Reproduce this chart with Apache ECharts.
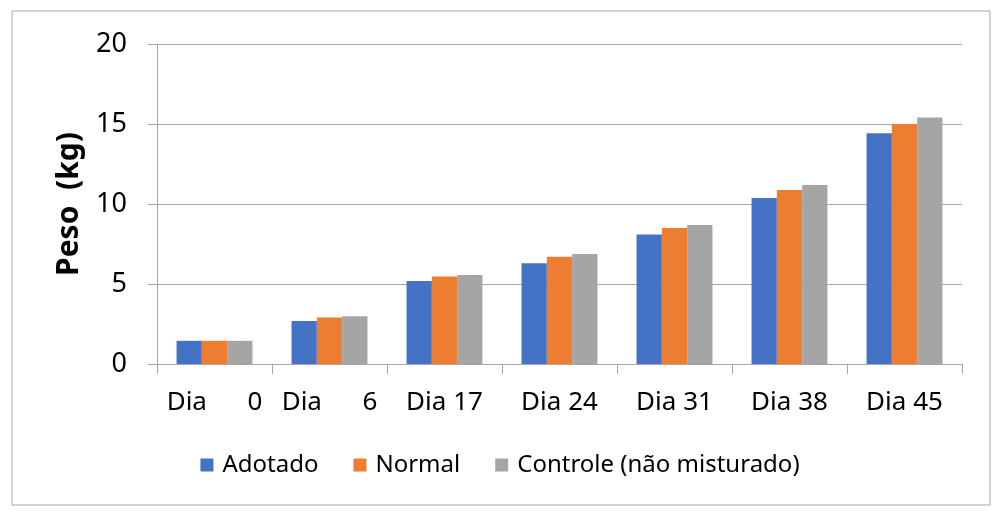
<!DOCTYPE html>
<html><head><meta charset="utf-8">
<script src="https://cdn.jsdelivr.net/npm/echarts@6/dist/echarts.min.js"></script>
<style>html,body{margin:0;padding:0;background:#fff}#c{width:1000px;height:515px}</style>
</head><body><div id="c"></div>
<script>
const categories = ['Dia      0', 'Dia      6', 'Dia 17', 'Dia 24', 'Dia 31', 'Dia 38', 'Dia 45'];
const adotado = [1.45, 2.68, 5.18, 6.3, 8.1, 10.38, 14.42];
const normal = [1.45, 2.9, 5.47, 6.7, 8.5, 10.88, 15.0];
const controle = [1.45, 2.98, 5.56, 6.88, 8.68, 11.18, 15.4];
const seriesNames = ['Adotado', 'Normal', 'Controle (não misturado)'];
const yTicks = [0, 5, 10, 15, 20];

const font = 'Noto Sans, Liberation Sans, sans-serif';
const chart = echarts.init(document.getElementById('c'));
chart.setOption({
  animation: false,
  color: ['#4472c4', '#ed7d31', '#a5a5a5'],
  graphic: [{type: 'rect', shape: {x: 12, y: 11, width: 978, height: 494}, style: {fill: 'none', stroke: '#a6a6a6', lineWidth: 1}}],
  legend: {
    data: seriesNames, top: 448, left: 'center', itemWidth: 13, itemHeight: 13, itemGap: 35,
    icon: 'rect',
    textStyle: {fontSize: 24, fontFamily: font, color: '#000', padding: [0, 0, 0, 4]}
  },
  grid: {left: 157, right: 38, top: 44, bottom: 151, containLabel: false},
  xAxis: {
    type: 'category', data: categories,
    axisLine: {lineStyle: {color: '#a6a6a6'}},
    axisTick: {show: true, length: 10, lineStyle: {color: '#a6a6a6'}},
    axisLabel: {fontSize: 26, fontFamily: font, color: '#000', margin: 26, interval: 0}
  },
  yAxis: {
    type: 'value', min: yTicks[0], max: yTicks[yTicks.length-1], interval: 5,
    name: 'Peso  (kg)', nameLocation: 'middle', nameGap: 73,
    nameTextStyle: {fontSize: 30, fontWeight: 'bold', fontFamily: font, color: '#000'},
    axisLine: {show: true, lineStyle: {color: '#a6a6a6'}},
    axisTick: {show: true, length: 9, inside: false, lineStyle: {color: '#a6a6a6'}},
    splitLine: {lineStyle: {color: '#a6a6a6'}},
    axisLabel: {fontSize: 27, fontFamily: font, color: '#000', margin: 30}
  },
  series: [
    {name: seriesNames[0], type: 'bar', data: adotado, barGap: '0%', barCategoryGap: '34%'},
    {name: seriesNames[1], type: 'bar', data: normal, barGap: '0%', barCategoryGap: '34%'},
    {name: seriesNames[2], type: 'bar', data: controle, barGap: '0%', barCategoryGap: '34%'}
  ]
});
</script></body></html>
